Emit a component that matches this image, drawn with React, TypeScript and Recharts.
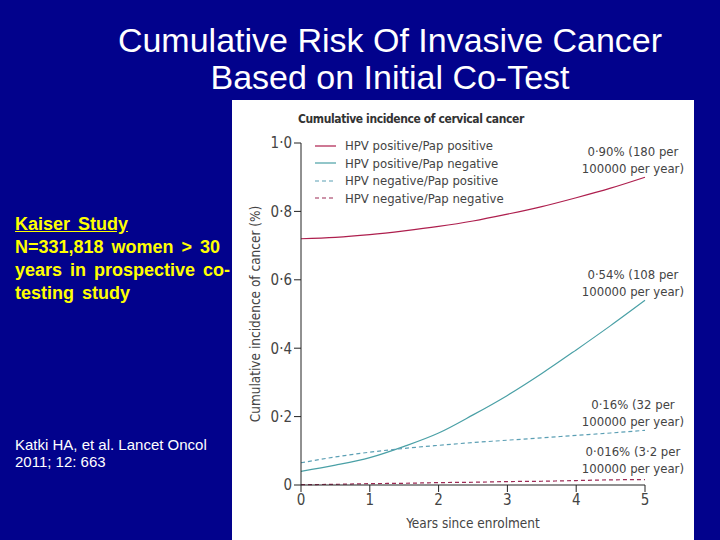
import React from 'react';
import { LineChart, XAxis, YAxis, Line } from 'recharts';

const years = [0, 0.5, 1, 1.5, 2, 2.5, 3, 3.5, 4, 4.5, 5];
const posPos = [0.72, 0.724, 0.732, 0.743, 0.756, 0.772, 0.792, 0.814, 0.84, 0.868, 0.9];
const posNeg = [0.04, 0.058, 0.08, 0.113, 0.152, 0.205, 0.262, 0.326, 0.395, 0.466, 0.54];
const negPos = [0.065, 0.082, 0.096, 0.107, 0.116, 0.124, 0.131, 0.138, 0.145, 0.152, 0.16];
const negNeg = [0.001, 0.002, 0.004, 0.005, 0.007, 0.008, 0.01, 0.011, 0.013, 0.015, 0.016];

const seriesNames = [
  'HPV positive/Pap positive',
  'HPV positive/Pap negative',
  'HPV negative/Pap positive',
  'HPV negative/Pap negative',
];
const seriesColors = ['#ae1f4e', '#4aa0a6', '#5b9fb4', '#9c2b55'];
const seriesDash = ['', '', '4 3', '4 3'];

const xTicks = [0, 1, 2, 3, 4, 5];
const yTicks = [0, 0.2, 0.4, 0.6, 0.8, 1.0];

const endNotes = [
  ['0·90% (180 per', '100000 per year)'],
  ['0·54% (108 per', '100000 per year)'],
  ['0·16% (32 per', '100000 per year)'],
  ['0·016% (3·2 per', '100000 per year)'],
];
const noteTops = [143, 266, 396, 443];

const data = years.map((y, i) => ({
  year: y,
  a: posPos[i],
  b: posNeg[i],
  c: negPos[i],
  d: negNeg[i],
}));
const keys = ['a', 'b', 'c', 'd'];

const chartFont = '"DejaVu Sans Condensed", "Liberation Sans Narrow", sans-serif';
const fmtY = (v: number) => (v === 0 ? '0' : v.toFixed(1).replace('.', '·'));

const App = () => {
  return (
    <div style={{ position: 'fixed', left: 0, top: 0, width: 720, height: 540, background: '#02028c', overflow: 'hidden', fontFamily: 'Arial, "Liberation Sans", sans-serif' }}>
      <div style={{ position: 'absolute', left: 40, width: 700, top: 22, textAlign: 'center', color: '#fff', fontSize: 34, lineHeight: '37px', whiteSpace: 'nowrap' }}>
        Cumulative Risk Of Invasive Cancer
        <br />
        Based on Initial Co-Test
      </div>
      <div style={{ position: 'absolute', left: 15, top: 213, color: '#ffff00', fontWeight: 'bold', fontSize: 18, lineHeight: '23px', wordSpacing: 3, whiteSpace: 'nowrap' }}>
        <div style={{ textDecoration: 'underline' }}>Kaiser Study</div>
        <div>
          N=331,818 women &gt; 30
          <br />
          years in prospective co-
          <br />
          testing study
        </div>
      </div>
      <div style={{ position: 'absolute', left: 15, top: 436, color: '#fff', fontSize: 15, lineHeight: '17px', whiteSpace: 'nowrap' }}>
        Katki HA, et al. Lancet Oncol
        <br />
        2011; 12: 663
      </div>
      <div style={{ position: 'absolute', left: 232, top: 100, width: 462, height: 440, background: '#fff' }}>
        <div style={{ position: 'absolute', left: 66, top: 12, fontFamily: chartFont, fontSize: 12, letterSpacing: -0.4, color: '#333', fontWeight: 600, whiteSpace: 'nowrap' }}>
          Cumulative incidence of cervical cancer
        </div>
        <LineChart width={462} height={440} data={data} margin={{ top: 43, right: 49, left: 29, bottom: 10 }}>
          <XAxis
            dataKey="year"
            type="number"
            domain={[0, 5]}
            ticks={xTicks}
            stroke="#222"
            tickSize={7}
            tick={{ fill: '#444', fontSize: 15, fontFamily: chartFont }}
            height={45}
            label={{ value: 'Years since enrolment', position: 'insideBottom', offset: 2, style: { fill: '#444', fontSize: 13.5, fontFamily: chartFont } }}
          />
          <YAxis
            type="number"
            domain={[0, 1]}
            ticks={yTicks}
            tickFormatter={fmtY}
            stroke="#222"
            tickSize={7}
            width={40}
            tick={{ fill: '#444', fontSize: 15, fontFamily: chartFont }}
            label={{ value: 'Cumulative incidence of cancer (%)', angle: -90, position: 'insideLeft', offset: -6, style: { textAnchor: 'middle', fill: '#444', fontSize: 13.5, fontFamily: chartFont } }}
          />
          {keys.map((k, i) => (
            <Line
              key={k}
              dataKey={k}
              name={seriesNames[i]}
              type="monotone"
              stroke={seriesColors[i]}
              strokeWidth={1.2}
              strokeDasharray={seriesDash[i] || undefined}
              dot={false}
              isAnimationActive={false}
            />
          ))}
        </LineChart>
        <div style={{ position: 'absolute', left: 83, top: 37, fontFamily: chartFont, fontSize: 13, color: '#444' }}>
          {seriesNames.map((n, i) => (
            <div key={n} style={{ display: 'flex', alignItems: 'center', height: 17.5, whiteSpace: 'nowrap' }}>
              <svg width={22} height={6} style={{ marginRight: 8 }}>
                <line x1={0} y1={3} x2={21} y2={3} stroke={seriesColors[i]} strokeWidth={1.2} strokeDasharray={seriesDash[i] || undefined} />
              </svg>
              <span>{n}</span>
            </div>
          ))}
        </div>
        {endNotes.map((n, i) => (
          <div key={i} style={{ position: 'absolute', right: 10, top: noteTops[i] - 100, textAlign: 'center', fontFamily: chartFont, fontSize: 13, lineHeight: '17px', color: '#444', whiteSpace: 'nowrap' }}>
            {n[0]}
            <br />
            {n[1]}
          </div>
        ))}
      </div>
    </div>
  );
};

export default App;
